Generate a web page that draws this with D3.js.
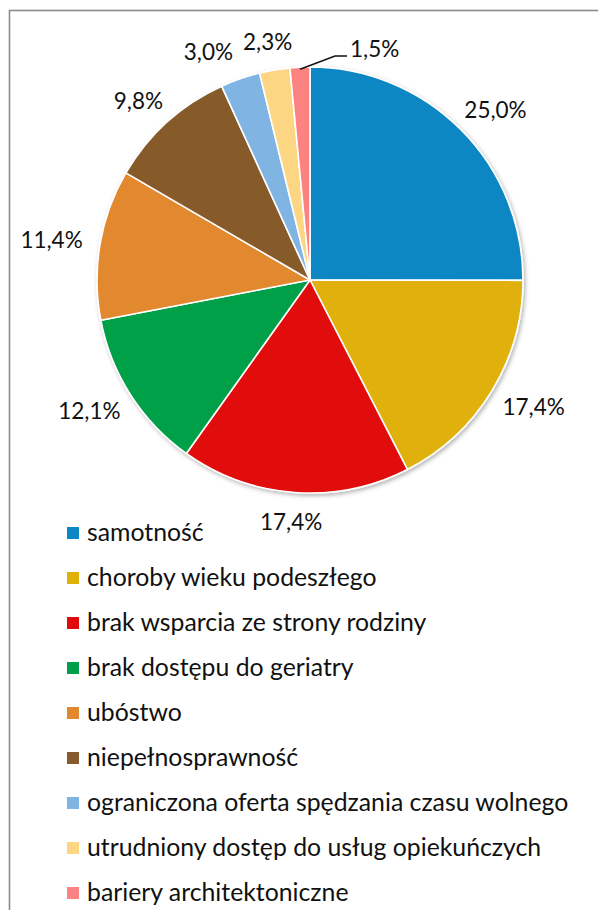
<!DOCTYPE html>
<html>
<head>
<meta charset="utf-8">
<script src="https://cdn.jsdelivr.net/npm/d3@7"></script>
<style>
  html, body { margin: 0; padding: 0; background: #fff; }
  svg { display: block; }
  text { font-family: Lato, "Open Sans", sans-serif; fill: #111; }
</style>
</head>
<body>
<svg id="chart" width="598" height="910"></svg>
<script>
// Problem categories and their shares (percent)
const categories = [
  "samotność",
  "choroby wieku podeszłego",
  "brak wsparcia ze strony rodziny",
  "brak dostępu do geriatry",
  "ubóstwo",
  "niepełnosprawność",
  "ograniczona oferta spędzania czasu wolnego",
  "utrudniony dostęp do usług opiekuńczych",
  "bariery architektoniczne"
];
const values = [25.0, 17.4, 17.4, 12.1, 11.4, 9.8, 3.0, 2.3, 1.5];
const colors = ["#0a86c4", "#e0b108", "#e10a0a", "#00a04a", "#e2882e", "#875a2c", "#80b5e3", "#fdd684", "#fd8282"];

const svg = d3.select("#chart");
const W = 598, H = 910;
const cx = 310, cy = 280, R = 213;

// outer frame (continues past right and bottom edges)
svg.append("rect")
  .attr("x", 9.5).attr("y", 10.5)
  .attr("width", W + 20).attr("height", H + 20)
  .attr("fill", "none").attr("stroke", "#8c8c8c").attr("stroke-width", 1.6);

const defs = svg.append("defs");
const f = defs.append("filter").attr("id", "shadow")
  .attr("x", "-10%").attr("y", "-10%").attr("width", "120%").attr("height", "120%");
f.append("feDropShadow").attr("dx", 1.5).attr("dy", 2).attr("stdDeviation", 2)
  .attr("flood-color", "#000").attr("flood-opacity", 0.3);

const fmt = v => d3.format(".1f")(v).replace(".", ",") + "%";

const pie = d3.pie().sort(null).value(d => d);
const arcs = pie(values);
const arc = d3.arc().innerRadius(0).outerRadius(R);

const g = svg.append("g").attr("transform", `translate(${cx},${cy})`);
g.append("g").attr("filter", "url(#shadow)")
  .selectAll("path").data(arcs).join("path")
  .attr("d", arc)
  .attr("fill", (d, i) => colors[i])
  .attr("stroke", "#fff").attr("stroke-width", 1.6).attr("stroke-linejoin", "round");

// data labels placed just outside the rim, box pushed away from the pie
const gap = 18, halfH = 11;
const labelFont = 22.5;
const labels = [];
arcs.forEach((d, i) => {
  const a = (d.startAngle + d.endAngle) / 2;
  const s = Math.sin(a), c = -Math.cos(a);
  if (values[i] < 2) {
    // small slice: label with leader line
    const p0 = [ (R - 2) * s, (R - 2) * c ];
    const p1 = [ 25, -224 ];
    const p2 = [ 37, -224 ];
    g.append("polyline")
      .attr("points", [p0, p1, p2].map(p => p.join(",")).join(" "))
      .attr("fill", "none").attr("stroke", "#111").attr("stroke-width", 1.4);
    g.append("text")
      .attr("x", p2[0] + 3).attr("y", p2[1] + 1)
      .attr("font-size", labelFont)
      .text(fmt(values[i]));
    return;
  }
  const t = g.append("text")
    .attr("text-anchor", "middle").attr("dominant-baseline", "central")
    .attr("font-size", labelFont)
    .text(fmt(values[i]));
  const w = t.node().getComputedTextLength();
  labels.push({ t, w, x: (R + gap) * s + (w / 2) * s, y: (R + gap) * c + halfH * c });
});

// push overlapping labels apart horizontally (leftward, starting from the right)
const byX = labels.slice().sort((a, b) => b.x - a.x);
for (let k = 1; k < byX.length; k++) {
  for (let j = 0; j < k; j++) {
    const A = byX[j], B = byX[k];
    if (Math.abs(A.y - B.y) < 2 * halfH + 2) {
      const minSep = (A.w + B.w) / 2 + 10;
      if (A.x - B.x < minSep) B.x = A.x - minSep;
    }
  }
}
labels.forEach(l => l.t.attr("x", l.x).attr("y", l.y));

// legend
const lg = svg.append("g").attr("transform", "translate(67,533)");
const rows = lg.selectAll("g").data(categories).join("g")
  .attr("transform", (d, i) => `translate(0,${i * 45})`);
rows.append("rect").attr("x", 0).attr("y", -6).attr("width", 12).attr("height", 12)
  .attr("fill", (d, i) => colors[i]);
rows.append("text").attr("x", 20).attr("y", 7.5)
  .attr("font-size", 24.8)
  .text(d => d);
</script>
</body>
</html>
